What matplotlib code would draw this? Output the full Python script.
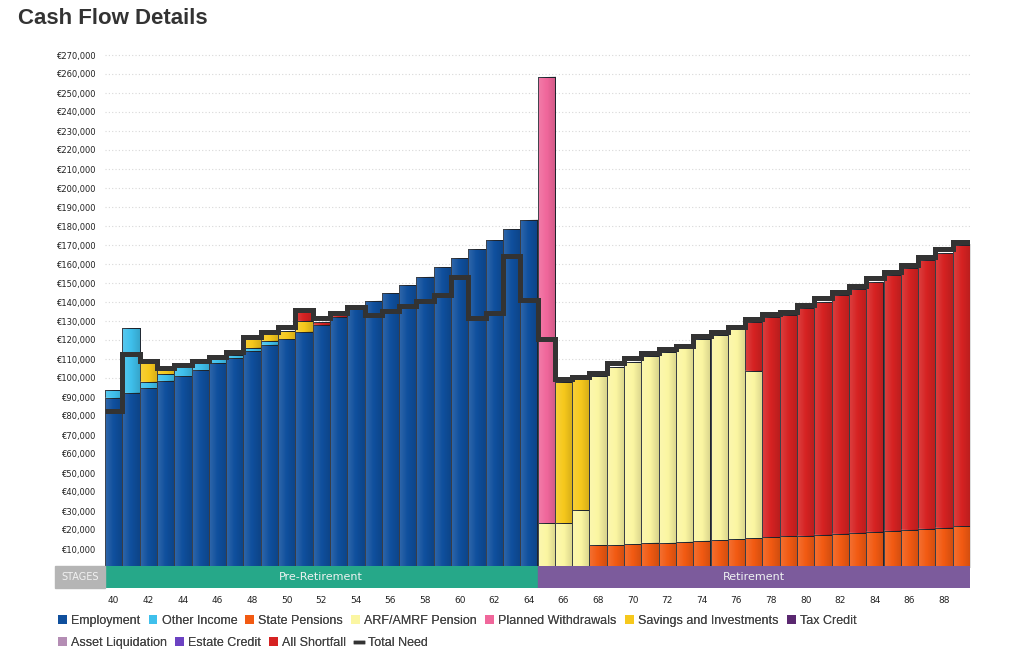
import numpy as np
import matplotlib
matplotlib.use("Agg")
import matplotlib.pyplot as plt
from matplotlib.patches import Patch, Rectangle
from matplotlib.lines import Line2D

# ages on the x axis
ages = list(range(40, 90))

# values in thousands of euro, one per age (40..89)
employment = [89.6, 92.3, 95.0, 98.6, 101.0, 104.2, 107.7, 110.4, 114.2, 117.4,
              120.4, 124.4, 127.9, 132.3, 137.0, 140.7, 144.6, 148.9, 153.3, 158.2,
              163.0, 167.7, 172.6, 178.3, 183.2] + [0] * 25
other_income = [4.1, 34.2, 3.0, 3.4, 4.6, 3.5, 2.1, 1.7, 1.8, 2.2] + [0] * 40
state_pensions = [0] * 28 + [12.1, 12.1, 12.6, 13.3, 13.3, 13.9, 14.4, 14.7, 15.1, 15.6,
                             16.1, 16.6, 17.0, 17.5, 18.0, 18.6, 19.1, 19.6, 20.1, 20.7,
                             21.3, 21.9]
arf_pension = [0] * 25 + [23.5, 23.5, 30.5, 88.9, 93.9, 96.0, 98.3, 100.6, 101.7, 106.0,
                          107.9, 110.5, 88.3] + [0] * 12
planned_withdrawals = [0] * 25 + [235.1] + [0] * 24
savings = [0, 0, 9.7, 2.2, 0, 0, 0, 0, 4.4, 3.4, 4.5, 5.8] + [0] * 14 + [74.5, 68.8] + [0] * 22
tax_credit = [0] * 50
asset_liquidation = [0] * 50
estate_credit = [0] * 50
shortfall = [0] * 11 + [4.4, 1.7, 0.9] + [0] * 23 + [25.7, 115.8, 116.6, 119.7, 122.7,
                                                      125.7, 128.1, 131.6, 134.6, 137.6,
                                                      141.4, 144.7, 148.1]
total_need = [82.8, 112.6, 109.0, 105.4, 106.8, 109.0, 111.2, 113.5, 121.8, 124.4,
              126.7, 135.8, 131.4, 134.4, 137.5, 133.2, 135.4, 137.9, 140.7, 143.7,
              153.0, 131.4, 134.0, 164.2, 141.0, 120.4, 99.3, 100.4, 102.5, 107.7,
              110.4, 113.3, 115.1, 116.8, 122.1, 124.4, 127.0, 130.8, 133.7, 134.9,
              138.4, 141.9, 145.4, 148.4, 152.5, 155.9, 159.5, 163.8, 167.7, 171.7]

series = [
    ("Employment", employment, "#0f4f9d"),
    ("Other Income", other_income, "#3fc0ec"),
    ("State Pensions", state_pensions, "#f25a12"),
    ("ARF/AMRF Pension", arf_pension, "#fbf6a2"),
    ("Planned Withdrawals", planned_withdrawals, "#f0679b"),
    ("Savings and Investments", savings, "#f6c81c"),
    ("Tax Credit", tax_credit, "#5a2870"),
    ("Asset Liquidation", asset_liquidation, "#b48db4"),
    ("Estate Credit", estate_credit, "#6c42c2"),
    ("All Shortfall", shortfall, "#d62222"),
]
need_color = "#333333"

stages = ["Pre-Retirement", "Retirement"]
stage_edges = [39.5, 64.5, 89.5]
stage_colors = ["#26a889", "#7c5b9c"]

W, H = 1024, 664
fig = plt.figure(figsize=(W / 100, H / 100), dpi=100)
fig.patch.set_facecolor("white")

ax = fig.add_axes([105 / W, 1 - 568 / H, 865 / W, (568 - 43.6) / H])
x = np.array(ages)
bottom = np.zeros(len(ages))

# subtle left-light / right-dark shading laid over each bar
shade = np.zeros((1, 32, 4))
t = np.linspace(0, 1, 32)
shade[0, :, :3] = np.where(t[:, None] < 0.5, 1.0, 0.0)
shade[0, :, 3] = np.abs(t - 0.5) * 0.28

for name, vals, col in series:
    v = np.array(vals) * 1000
    bars = ax.bar(x, v, width=1.0, bottom=bottom, color=col, edgecolor="#1f2630",
                  linewidth=0.7, zorder=2)
    for b, h in zip(bars, v):
        if h > 0:
            ax.imshow(shade, extent=(b.get_x(), b.get_x() + b.get_width(),
                                     b.get_y(), b.get_y() + h),
                      aspect="auto", zorder=2.5, interpolation="bilinear")
    bottom += v

ax.stairs(np.array(total_need) * 1000, np.arange(39.5, 90.5), baseline=None,
          color=need_color, linewidth=3.6, zorder=4)

ax.set_xlim(39.5, 89.5)
ax.set_ylim(0, 276000)
yt = np.arange(10000, 280000, 10000)
ax.set_yticks(yt)
ax.set_yticklabels([f"€{v:,.0f}" for v in yt], fontsize=6, color="#222222")
ax.tick_params(axis="y", length=0, pad=7)
ax.set_xticks([])
for y in yt:
    ax.axhline(y, color="#d8d8d8", linewidth=0.8, linestyle=(0, (1, 2)), zorder=1)
for s in ax.spines.values():
    s.set_visible(False)

# stage band
band = fig.add_axes([105 / W, 1 - 588 / H, 865 / W, 22 / H])
for i, name in enumerate(stages):
    band.axvspan(stage_edges[i], stage_edges[i + 1], color=stage_colors[i])
    band.text((stage_edges[i] + stage_edges[i + 1]) / 2, 0.5, name, ha="center",
              va="center", fontsize=8, color="#eef2f2", family="DejaVu Sans")
band.set_xlim(39.5, 89.5)
band.set_ylim(0, 1)
band.set_yticks([])
band.set_xticks(range(40, 90, 2))
band.tick_params(axis="x", length=0, pad=6, labelsize=6.5, labelcolor="#222222")
for s in band.spines.values():
    s.set_visible(False)

fig.patches.append(Rectangle((55 / W, 1 - 588 / H), 50 / W, 22 / H,
                             transform=fig.transFigure, color="#b5b5b5"))
fig.text(80 / W, 1 - 577 / H, "STAGES", ha="center", va="center", fontsize=7,
         color="#f2f2f2")

fig.text(18 / W, 1 - 18 / H, "Cash Flow Details", ha="left", va="center",
         fontsize=16, fontweight="bold", color="#333333", family="Liberation Sans")

# legend in two rows
handles = [Patch(facecolor=c, edgecolor="none") for _, _, c in series]
names = [n for n, _, _ in series]
handles.append(Line2D([0], [0], color=need_color, linewidth=2.5))
names.append("Total Need")
row1 = list(range(7))
row2 = list(range(7, 11))
for rows, ypos in [(row1, 621), (row2, 643)]:
    leg = fig.legend([handles[i] for i in rows], [names[i] for i in rows],
                     loc="center left", bbox_to_anchor=(58 / W, 1 - ypos / H),
                     ncol=len(rows), frameon=False, handlelength=0.7,
                     handleheight=0.7, handletextpad=0.35, columnspacing=0.65,
                     borderaxespad=0, borderpad=0,
                     prop={"family": "Liberation Sans", "size": 9})
    for t in leg.get_texts():
        t.set_color("#444444")
    fig.add_artist(leg)

fig.savefig("out.png", dpi=100)
